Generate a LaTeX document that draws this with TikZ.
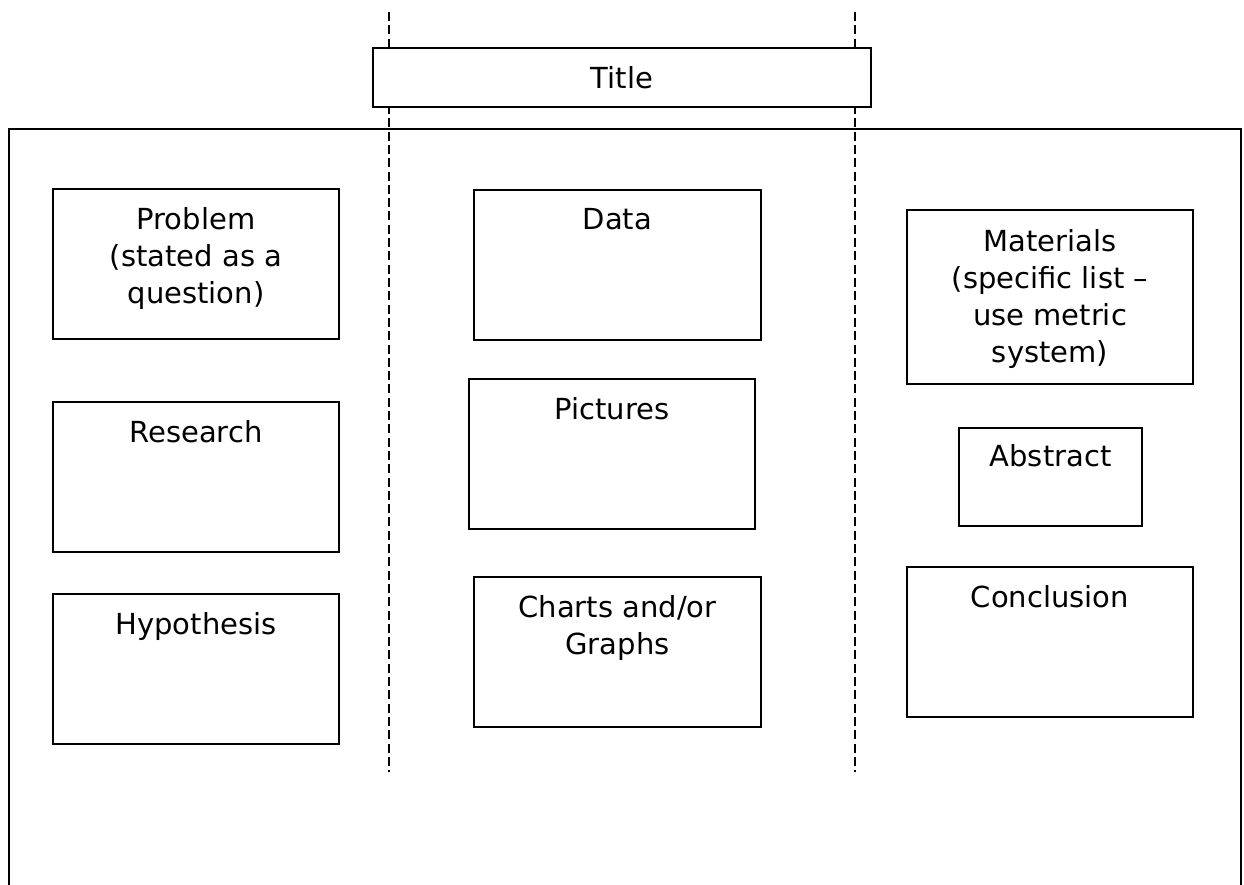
\documentclass[tikz,border=0pt]{standalone}
\usepackage{fontspec}
\setmainfont{DejaVu Sans}
\begin{document}
\begin{tikzpicture}[x=1pt,y=-1pt,
  box/.style={draw,line width=1.6pt,fill=white,inner sep=0pt},
  lbl/.style={anchor=north,inner sep=0pt,align=center,font=\fontsize{29}{37}\selectfont},
  divider/.style={line width=1.6pt,dash pattern=on 9pt off 4.3pt}]
\useasboundingbox (0,0) rectangle (1244,885);
% frame
\draw[line width=1.6pt] (9,890) -- (9,129) -- (1241,129) -- (1241,890);
% dashed dividers
\coordinate (d1t) at (389,12); \coordinate (d1b) at (389,772);
\coordinate (d2t) at (855,12); \coordinate (d2b) at (855,772);
\draw[divider] (d1t) -- (d1b);
\draw[divider] (d2t) -- (d2b);
% title
\node[box,minimum width=498pt,minimum height=59pt] (title) at (622,77.5) {};
\node[font=\fontsize{29}{37}\selectfont,anchor=base,inner sep=0pt] (titlet) at (622,89) {Title};
% left column
\node[box,minimum width=286pt,minimum height=150pt] (prob) at (196,264) {};
\node[lbl] (probt) at ([yshift=-19pt]prob.north) {Problem\\(stated as a\\question)};
\node[box,minimum width=286pt,minimum height=150pt] (res) at (196,477) {};
\node[lbl] (rest) at ([yshift=-19pt]res.north) {Research};
\node[box,minimum width=286pt,minimum height=150pt] (hyp) at (196,669) {};
\node[lbl] (hypt) at ([yshift=-19pt]hyp.north) {Hypothesis};
% middle column
\node[box,minimum width=287pt,minimum height=150pt] (data) at (617.5,265) {};
\node[lbl] (datat) at ([yshift=-19pt]data.north) {Data};
\node[box,minimum width=286pt,minimum height=150pt] (pic) at (612,454) {};
\node[lbl] (pict) at ([yshift=-19pt]pic.north) {Pictures};
\node[box,minimum width=287pt,minimum height=150pt] (chart) at (617.5,652) {};
\node[lbl] (chartt) at ([yshift=-19pt]chart.north) {Charts and/or\\Graphs};
% right column
\node[box,minimum width=286pt,minimum height=174pt] (mat) at (1050,297) {};
\node[lbl] (matt) at ([yshift=-20pt]mat.north) {Materials\\(specific list –\\use metric\\system)};
\node[box,minimum width=183pt,minimum height=98pt] (abs) at (1050.5,477) {};
\node[lbl] (abst) at ([yshift=-17pt]abs.north) {Abstract};
\node[box,minimum width=286pt,minimum height=150pt] (conc) at (1050,642) {};
\node[lbl] (conct) at ([yshift=-19pt]conc.north) {Conclusion};
\end{tikzpicture}
\end{document}
